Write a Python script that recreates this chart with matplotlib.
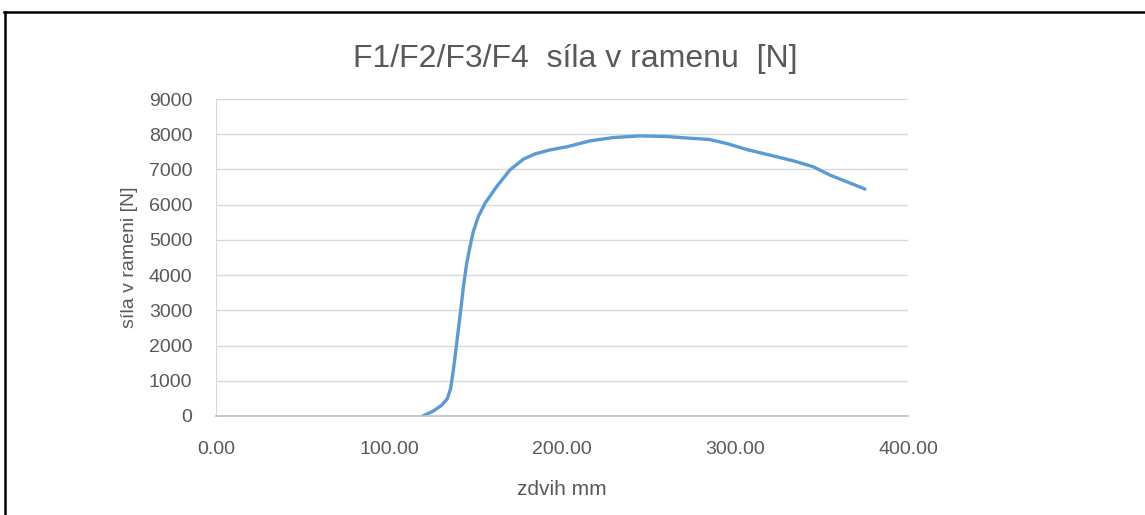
import numpy as np
import matplotlib.pyplot as plt
from matplotlib.lines import Line2D

# zdvih [mm] a sila v rameni [N]
zdvih = [119.5, 125.6, 130.4, 133.7, 135.6, 137.2, 139.1, 141.0, 143.0, 144.9,
         146.8, 148.7, 151.6, 155.5, 162.2, 169.9, 177.6, 184.4, 193.1, 202.7,
         216.2, 229.7, 245.1, 260.5, 274.0, 285.5, 295.2, 306.8, 320.2, 333.7,
         345.3, 354.9, 364.6, 375.1]
sila = [0, 142, 303, 493, 777, 1299, 2057, 2815, 3668, 4332,
        4806, 5232, 5659, 6038, 6512, 6986, 7289, 7441, 7555, 7642,
        7811, 7906, 7953, 7934, 7887, 7849, 7736, 7566, 7406, 7245,
        7075, 6840, 6651, 6443]

x_ticks = [0, 100, 200, 300, 400]
y_ticks = list(range(0, 9001, 1000))

text_col = "#595959"
plt.rcParams['font.family'] = ['Liberation Sans', 'DejaVu Sans']

fig = plt.figure(figsize=(11.45, 5.15), dpi=100)
ax = fig.add_axes([216 / 1145, 99 / 515, 692 / 1145, 317 / 515])

ax.plot(zdvih, sila, color="#5B9BD5", linewidth=2.4,
        solid_capstyle="round", solid_joinstyle="round")

ax.set_xlim(0, 400)
ax.set_ylim(0, 9000)
ax.set_xticks(x_ticks)
ax.set_xticklabels([f"{v:.2f}" for v in x_ticks])
ax.set_yticks(y_ticks)
ax.grid(axis="y", color="#D9D9D9", linewidth=1)
ax.set_axisbelow(True)
for s in ["top", "right"]:
    ax.spines[s].set_visible(False)
ax.spines["left"].set_color("#D9D9D9")
ax.spines["bottom"].set_color("#BFBFBF")
ax.spines["bottom"].set_linewidth(1.2)
ax.tick_params(length=0, labelsize=14, labelcolor=text_col)
ax.tick_params(axis="x", pad=18)
ax.tick_params(axis="y", pad=17)

ax.set_xlabel("zdvih mm", fontsize=15, color=text_col, labelpad=16)
ax.set_ylabel("síla v rameni [N]", fontsize=14, color=text_col, labelpad=8)
fig.text(575 / 1145, 1 - 59 / 515, "F1/F2/F3/F4  síla v ramenu  [N]",
         fontsize=23, color=text_col, ha="center", va="center")

# cerny ramecek (horni a levy okraj)
fig.add_artist(Line2D([4 / 1145, 1], [1 - 12 / 515, 1 - 12 / 515],
                      color="black", linewidth=1.8, transform=fig.transFigure))
fig.add_artist(Line2D([5 / 1145, 5 / 1145], [0, 1 - 12 / 515],
                      color="black", linewidth=1.8, transform=fig.transFigure))

fig.savefig("out.png", dpi=100)
